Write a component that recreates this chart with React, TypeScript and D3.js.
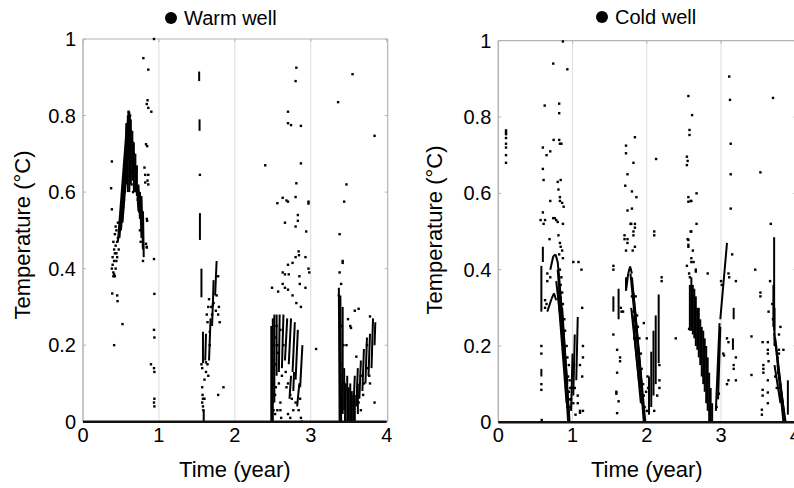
import React from "react";
import * as d3 from "d3";

// ---------- DATA (time in years, temperature in °C) ----------
const xTicks = [0, 1, 2, 3, 4];
const yTicks = [0, 0.2, 0.4, 0.6, 0.8, 1];
const yTickLabels = ["0", "0.2", "0.4", "0.6", "0.8", "1"];
const gridYears = [1, 2, 3];

// Warm well: isolated samples [t, T]
const warmDots: [number, number][] = [
  [0.37,0.61],[0.38,0.68],[0.38,0.555],[0.385,0.335],[0.41,0.2],[0.45,0.33],[0.455,0.315],[0.52,0.255],
  [0.39,0.41],[0.40,0.39],[0.41,0.42],[0.42,0.38],[0.43,0.40],[0.41,0.45],[0.43,0.46],[0.44,0.44],[0.45,0.47],
  [0.40,0.47],[0.42,0.49],[0.44,0.50],[0.46,0.48],[0.43,0.51],[0.39,0.43],[0.44,0.42],[0.47,0.45],[0.48,0.50],
  [0.40,0.38],[0.42,0.44],[0.46,0.52],[0.38,0.40],[0.41,0.385],[0.45,0.43],
  [0.55,0.6],[0.56,0.63],[0.58,0.66],[0.6,0.7],[0.57,0.72],[0.59,0.75],[0.61,0.78],[0.6,0.81],[0.62,0.8],
  [0.63,0.76],[0.65,0.73],[0.64,0.68],[0.66,0.66],[0.67,0.7],[0.69,0.66],[0.7,0.63],[0.68,0.61],[0.66,0.6],
  [0.71,0.6],[0.63,0.65],[0.72,0.58],[0.74,0.55],[0.73,0.6],[0.75,0.5],[0.76,0.47],[0.79,0.46],[0.79,0.42],
  [0.58,0.69],[0.6,0.74],[0.62,0.71],[0.64,0.74],[0.66,0.7],[0.68,0.67],[0.56,0.67],[0.58,0.73],[0.62,0.66],
  [0.64,0.62],[0.67,0.64],[0.7,0.66],[0.59,0.64],[0.61,0.69],[0.63,0.72],[0.65,0.69],[0.54,0.58],[0.53,0.56],
  [0.84,0.457],[0.935,0.425],[0.935,1.0],[0.795,0.95],[0.86,0.92],[0.85,0.84],[0.84,0.83],[0.86,0.82],[0.9,0.81],
  [0.83,0.725],[0.845,0.72],[0.81,0.664],[0.82,0.645],[0.86,0.645],[0.85,0.63],[0.82,0.625],[0.86,0.62],
  [0.84,0.53],[0.845,0.525],[0.83,0.465],[0.84,0.455],[0.94,0.334],[0.935,0.24],[0.94,0.22],[0.895,0.15],
  [0.935,0.14],[0.94,0.13],[0.94,0.06],[0.935,0.05],[0.94,0.04],
  [1.54,0.645],[1.57,0.09],[1.575,0.07],[1.58,0.06],[1.57,0.05],[1.58,0.04],[1.585,0.03],[1.56,0.15],[1.57,0.14],
  [1.66,0.32],[1.69,0.3],[1.7,0.28],[1.72,0.31],[1.75,0.29],[1.78,0.28],[1.8,0.26],[1.79,0.3],[1.78,0.38],
  [1.67,0.2],[1.64,0.15],[1.62,0.13],[1.6,0.11],[1.65,0.12],[1.85,0.09],[1.78,0.07],[1.6,0.06],[1.62,0.155],
  [1.64,0.26],[1.67,0.235],[1.76,0.33],[1.63,0.28],[1.65,0.3],
  [2.81,0.925],[2.8,0.89],[2.7,0.81],[2.7,0.78],[2.74,0.775],[2.87,0.773],[2.4,0.67],[2.87,0.675],[2.81,0.623],
  [2.56,0.571],[2.63,0.585],[2.68,0.578],[2.7,0.575],[2.8,0.587],[2.97,0.575],[2.97,0.57],[2.83,0.54],[2.83,0.525],
  [2.66,0.52],[2.8,0.51],[2.94,0.497],[2.84,0.445],[2.845,0.435],[2.8,0.43],[2.93,0.43],[2.76,0.415],[2.7,0.41],
  [2.63,0.39],[2.66,0.385],[2.71,0.385],[2.97,0.4],[2.98,0.39],[2.85,0.38],[2.855,0.36],[2.93,0.35],[2.63,0.36],
  [2.66,0.35],[2.7,0.345],[2.76,0.33],[2.49,0.35],[2.57,0.34],[2.87,0.3],[3.07,0.19],[2.81,0.31],
  [2.73,0.07],[2.75,0.06],[2.8,0.05],[2.86,0.06],[2.77,0.03],[2.7,0.02],[2.73,0.01],[2.84,0.03],[2.87,0.01],
  [2.88,0.0],[2.54,0.09],[2.53,0.07],[2.56,0.03],[2.53,0.02],[2.6,0.05],[2.6,0.03],[2.61,0.01],[2.58,0.1],
  [2.62,0.12],[2.68,0.09],[2.7,0.1],[2.64,0.2],[2.6,0.24],[2.67,0.13],[2.52,0.2],[2.53,0.22],[2.55,0.25],
  [2.57,0.18],[2.54,0.15],[2.56,0.2],[2.51,0.14],[2.5,0.1],[2.52,0.07],[2.49,0.05],[2.51,0.03],
  [3.38,0.49],[3.38,0.39],[3.42,0.42],[3.42,0.415],[3.44,0.575],[3.47,0.62],[3.36,0.835],[3.55,0.908],
  [3.84,0.747],[3.49,0.268],[3.58,0.29],[3.63,0.295],[3.52,0.25],[3.53,0.245],[3.78,0.275],[3.74,0.2],
  [3.75,0.14],[3.77,0.12],[3.78,0.1],[3.84,0.05],[3.47,0.2],[3.6,0.17],[3.4,0.36],[3.37,0.33],[3.41,0.25],
  [3.43,0.2],[3.39,0.15],[3.44,0.1],[3.66,0.12],[3.7,0.1],[3.69,0.07],[3.63,0.05],[3.66,0.03],
];

// Warm well: runs of consecutive samples [t0, T0, t1, T1]
const warmRuns: [number, number, number, number][] = [
  [0.46,0.47,0.58,0.78],[0.48,0.48,0.6,0.81],[0.5,0.5,0.62,0.8],[0.52,0.52,0.61,0.75],
  [0.57,0.62,0.57,0.78],[0.59,0.6,0.59,0.8],[0.61,0.6,0.61,0.81],[0.63,0.62,0.63,0.79],[0.65,0.63,0.65,0.76],
  [0.67,0.6,0.67,0.73],[0.69,0.6,0.69,0.7],[0.71,0.59,0.71,0.67],
  [0.73,0.62,0.75,0.53],[0.75,0.6,0.77,0.48],[0.77,0.59,0.79,0.45],[0.79,0.55,0.8,0.43],[0.71,0.62,0.73,0.55],
  [1.53,0.89,1.53,0.915],[1.535,0.76,1.535,0.79],[1.54,0.475,1.54,0.545],[1.56,0.325,1.56,0.40],
  [1.58,0.153,1.58,0.235],[1.59,0.0,1.59,0.03],
  [1.74,0.33,1.76,0.42],[1.71,0.3,1.72,0.37],[1.66,0.16,1.68,0.27],[1.61,0.16,1.62,0.23],[1.7,0.25,1.71,0.31],
  [2.48,0.0,2.48,0.25],[2.5,0.0,2.5,0.27],[2.52,0.05,2.52,0.28],
  [2.55,0.12,2.55,0.28],[2.58,0.13,2.59,0.28],[2.62,0.14,2.64,0.28],[2.66,0.16,2.69,0.27],[2.71,0.15,2.74,0.27],
  [2.76,0.13,2.79,0.26],[2.8,0.11,2.83,0.24],[2.86,0.09,2.89,0.2],[2.72,0.06,2.74,0.12],[2.82,0.04,2.85,0.1],
  [2.77,0.08,2.78,0.13],
  [3.38,0.0,3.37,0.35],[3.4,0.0,3.39,0.33],[3.42,0.02,3.42,0.3],
  [3.56,0.03,3.58,0.12],[3.6,0.04,3.62,0.14],[3.64,0.06,3.66,0.16],[3.68,0.08,3.7,0.19],[3.72,0.1,3.74,0.22],
  [3.76,0.12,3.78,0.23],[3.8,0.14,3.82,0.27],[3.84,0.2,3.85,0.26],
  [3.45,0.0,3.46,0.1],[3.48,0.0,3.48,0.12],[3.5,0.0,3.5,0.09],[3.52,0.0,3.52,0.1],[3.54,0.0,3.54,0.08],
  [3.56,0.0,3.56,0.07],[3.58,0.0,3.58,0.07],[3.62,0.02,3.62,0.1],[3.44,0.03,3.44,0.14],
];

// Cold well: isolated samples [t, T]
const coldDots: [number, number][] = [
  [0.104,0.765],[0.104,0.76],[0.104,0.755],[0.104,0.745],[0.104,0.73],[0.104,0.72],[0.104,0.70],[0.104,0.68],
  [0.58,0.2],[0.58,0.18],[0.58,0.1],[0.58,0.085],[0.585,0.006],[0.6,0.55],[0.61,0.52],[0.6,0.664],[0.61,0.635],
  [0.6,0.72],[0.65,0.70],[0.625,0.83],[0.74,0.94],[0.87,0.998],[0.93,0.925],[0.82,0.835],[0.82,0.81],[0.745,0.74],
  [0.82,0.74],[0.85,0.73],[0.83,0.73],[0.7,0.71],[0.8,0.63],[0.84,0.635],[0.81,0.61],[0.83,0.59],[0.83,0.58],
  [0.86,0.575],[0.88,0.565],[0.7,0.58],[0.57,0.53],[0.63,0.53],[0.74,0.535],[0.76,0.535],[0.78,0.53],[0.8,0.525],
  [0.87,0.52],[0.69,0.48],[0.81,0.49],[0.83,0.47],[0.84,0.46],[0.86,0.45],[0.82,0.44],[0.87,0.43],[0.66,0.39],
  [0.66,0.37],[0.63,0.30],[0.70,0.38],[1.01,0.42],[1.08,0.42],[1.12,0.40],[1.13,0.3],[1.14,0.2],[1.14,0.17],
  [1.13,0.12],[1.1,0.15],[1.07,0.07],[1.07,0.05],[1.1,0.03],[1.1,0.025],[1.14,0.03],[1.04,0.02],[0.65,0.31],
  [0.63,0.32],[0.84,0.36],[0.86,0.34],[0.87,0.31],[0.89,0.27],[0.9,0.24],[0.92,0.2],[0.93,0.17],[0.94,0.12],
  [0.95,0.08],[0.96,0.06],[0.97,0.04],[0.9,0.12],[0.91,0.09],[1.0,0.12],[1.02,0.15],[0.99,0.09],
  [0.83,0.4],[0.85,0.38],[0.81,0.33],[0.83,0.3],[0.85,0.26],[0.87,0.23],[0.88,0.18],[0.89,0.14],[0.91,0.11],
  [0.92,0.07],[0.93,0.04],[0.95,0.15],[0.96,0.11],[0.97,0.09],[0.98,0.06],[1.01,0.05],[1.03,0.09],
  [1.55,0.41],[1.55,0.4],[1.55,0.23],[1.6,0.19],[1.64,0.17],[1.64,0.16],[1.6,0.13],[1.59,0.08],[1.59,0.075],
  [1.62,0.055],[1.6,0.024],[1.84,0.747],[1.72,0.725],[1.72,0.705],[1.82,0.68],[1.74,0.65],[1.71,0.62],[1.8,0.605],
  [1.86,0.59],[1.74,0.555],[1.8,0.56],[1.78,0.52],[1.79,0.52],[1.84,0.52],[1.84,0.51],[1.7,0.49],[1.7,0.48],
  [1.74,0.48],[1.74,0.47],[1.82,0.5],[1.82,0.49],[1.84,0.46],[1.72,0.45],[1.81,0.45],[2.1,0.5],[2.1,0.49],
  [2.125,0.69],[2.2,0.38],[2.2,0.37],[2.39,0.22],[1.96,0.26],[2.0,0.22],[2.17,0.15],[2.17,0.11],[2.14,0.07],
  [2.1,0.03],[2.17,0.09],[1.65,0.3],[1.66,0.29],[1.68,0.29],[1.85,0.33],[1.87,0.28],[1.88,0.25],[1.9,0.22],
  [1.92,0.18],[1.93,0.14],[1.95,0.1],[1.96,0.07],[1.97,0.04],[2.0,0.03],[1.99,0.08],[2.01,0.12],[2.02,0.09],
  [1.83,0.22],[1.86,0.18],[1.8,0.33],[1.82,0.29],[1.84,0.25],[1.86,0.22],[1.87,0.16],[1.89,0.13],[1.91,0.08],
  [1.94,0.05],
  [2.56,0.855],[2.61,0.805],[2.575,0.766],[2.575,0.753],[2.54,0.696],[2.55,0.685],[2.54,0.674],[2.56,0.59],
  [2.56,0.578],[2.59,0.58],[2.6,0.58],[2.67,0.6],[2.67,0.52],[2.59,0.5],[2.6,0.5],[2.55,0.48],[2.56,0.46],
  [2.62,0.45],[2.6,0.43],[2.6,0.42],[2.54,0.41],[2.63,0.42],[2.66,0.4],[2.66,0.395],[2.56,0.478],[2.56,0.465],
  [2.57,0.39],[2.58,0.38],[2.57,0.245],[2.82,0.39],[3.11,0.906],[3.12,0.845],[3.13,0.73],[3.13,0.65],
  [3.13,0.56],[3.15,0.44],[3.1,0.39],[3.11,0.38],[3.0,0.37],[3.01,0.36],[3.2,0.37],[3.08,0.22],[3.1,0.21],
  [3.2,0.17],[3.03,0.18],[3.04,0.175],[3.17,0.15],[3.17,0.14],[3.2,0.11],[3.08,0.1],[3.1,0.11],[2.97,0.075],
  [2.94,0.04],
  [3.7,0.85],[3.53,0.655],[3.46,0.4],[3.53,0.34],[3.53,0.33],[3.41,0.225],[3.41,0.124],[3.56,0.21],[3.57,0.15],
  [3.57,0.14],[3.57,0.13],[3.56,0.085],[3.56,0.07],[3.55,0.033],[3.55,0.02],[3.63,0.078],[3.63,0.05],[3.63,0.11],
  [3.64,0.16],[3.63,0.19],[3.63,0.18],[3.63,0.21],[3.64,0.29],[3.66,0.37],[3.67,0.52],[3.8,0.25],[3.84,0.19],
  [3.78,0.19],[3.78,0.18],[3.78,0.23],[3.7,0.27],[3.69,0.31],[3.74,0.2],[3.76,0.17],[3.77,0.13],[3.79,0.1],
  [3.81,0.07],[3.83,0.04],[3.73,0.12],[3.75,0.09],
];

// Cold well: runs of consecutive samples [t0, T0, t1, T1]
const coldRuns: [number, number, number, number][] = [
  [0.58,0.29,0.58,0.41],[0.6,0.42,0.6,0.46],[0.58,0.12,0.58,0.14],
  [0.7,0.4,0.74,0.435],[0.74,0.435,0.77,0.44],[0.77,0.44,0.8,0.42],[0.8,0.42,0.82,0.38],
  [0.66,0.29,0.72,0.325],[0.72,0.325,0.75,0.338],[0.75,0.338,0.78,0.32],
  [0.8,0.4,0.9,0.15],[0.82,0.38,0.93,0.1],[0.84,0.33,0.95,0.02],[0.86,0.3,0.96,0.0],[0.8,0.35,0.92,0.05],
  [0.88,0.2,0.94,0.0],[0.78,0.37,0.88,0.2],
  [1.05,0.11,1.07,0.276],[1.01,0.07,1.03,0.23],[0.98,0.03,1.0,0.18],
  [1.55,0.29,1.55,0.33],[1.62,0.27,1.62,0.35],[1.72,0.345,1.72,0.38],
  [1.72,0.345,1.75,0.39],[1.75,0.39,1.775,0.408],[1.775,0.408,1.8,0.39],
  [1.78,0.39,1.9,0.15],[1.8,0.38,1.93,0.1],[1.82,0.34,1.96,0.02],[1.84,0.3,1.98,0.0],[1.79,0.3,1.9,0.1],
  [1.88,0.2,1.96,0.0],[1.81,0.28,1.92,0.05],
  [2.16,0.155,2.16,0.335],[2.12,0.1,2.12,0.28],[2.09,0.07,2.09,0.24],[2.06,0.04,2.06,0.185],[2.03,0.02,2.03,0.12],
  [3.17,0.27,3.17,0.3],[3.16,0.19,3.16,0.22],[2.99,0.27,3.08,0.47],[2.93,0.03,2.98,0.26],[2.96,0.06,2.99,0.25],
  [2.58,0.24,2.58,0.36],[2.6,0.24,2.6,0.38],[2.62,0.23,2.62,0.36],[2.64,0.22,2.64,0.35],[2.66,0.2,2.66,0.33],
  [2.68,0.19,2.68,0.3],[2.7,0.17,2.7,0.3],[2.72,0.15,2.72,0.27],[2.74,0.12,2.74,0.25],[2.76,0.1,2.76,0.24],
  [2.78,0.08,2.78,0.22],[2.8,0.05,2.8,0.2],[2.82,0.03,2.82,0.17],[2.84,0.0,2.84,0.13],[2.86,0.0,2.86,0.09],
  [2.88,0.0,2.88,0.05],
  [3.715,0.24,3.715,0.485],[3.705,0.25,3.705,0.36],[3.72,0.2,3.72,0.3],
  [3.715,0.235,3.86,0.0],[3.73,0.22,3.85,0.02],[3.75,0.18,3.84,0.0],[3.72,0.15,3.8,0.05],[3.76,0.15,3.87,0.0],
  [3.9,0.02,3.9,0.11],
];

// ---------- PANEL ----------
const FONT = "Arial, 'Liberation Sans', Helvetica, sans-serif";

type PanelProps = {
  x0: number; x1: number; yTop: number; yBot: number;
  title: string; titleX: number; titleY: number;
  yTitleX: number; yTitleY: number;
  dots: [number, number][]; runs: [number, number, number, number][];
};

function Panel(p: PanelProps) {
  const x = d3.scaleLinear().domain([0, 4]).range([p.x0, p.x1]);
  const y = d3.scaleLinear().domain([0, 1]).range([p.yBot, p.yTop]);
  const seg = d3.line<[number, number]>().x((d) => x(d[0])).y((d) => y(d[1]));
  const frame = "#b4b4b4";
  return (
    <g>
      <circle cx={p.titleX - 13} cy={p.titleY - 7} r={6} fill="#000" />
      <text x={p.titleX} y={p.titleY} fontSize={20} fontFamily={FONT} fill="#000">{p.title}</text>

      {gridYears.map((g) => (
        <line key={g} x1={x(g)} x2={x(g)} y1={y(1)} y2={y(0)} stroke="#dcdcdc" strokeWidth={1} />
      ))}
      <line x1={x(0)} x2={x(4)} y1={y(1)} y2={y(1)} stroke={frame} strokeWidth={1.2} />
      <line x1={x(0)} x2={x(0)} y1={y(1)} y2={y(0)} stroke={frame} strokeWidth={1.5} />
      <line x1={x(4) + 1} x2={x(4) + 1} y1={y(1)} y2={y(0)} stroke={frame} strokeWidth={1.2} />
      {yTicks.map((t, i) => (
        <g key={"yt" + i}>
          <line x1={x(0)} x2={x(0) + 3} y1={y(t)} y2={y(t)} stroke={frame} />
          <line x1={x(4) + 1} x2={x(4) - 2} y1={y(t)} y2={y(t)} stroke={frame} />
          <text x={x(0) - 7} y={y(t) + 7} fontSize={20} textAnchor="end" fontFamily={FONT} fill="#000">
            {yTickLabels[i]}
          </text>
        </g>
      ))}
      {xTicks.map((t) => (
        <g key={"xt" + t}>
          <line x1={x(t)} x2={x(t)} y1={y(1)} y2={y(1) + 3} stroke={frame} />
          <text x={x(t)} y={y(0) + 20} fontSize={20} textAnchor="middle" fontFamily={FONT} fill="#000">
            {t}
          </text>
        </g>
      ))}

      {p.runs.map((r, i) => (
        <path key={"r" + i} d={seg([[r[0], r[1]], [r[2], r[3]]]) || ""} stroke="#000" strokeWidth={2} fill="none" />
      ))}
      {p.dots.map((d, i) => (
        <rect key={"d" + i} x={x(d[0]) - 1.2} y={y(d[1]) - 1.2} width={2.4} height={2.4} fill="#000" />
      ))}

      <line x1={x(0)} x2={x(4)} y1={y(0)} y2={y(0)} stroke="#111" strokeWidth={2.5} />

      <text x={(x(0) + x(4)) / 2} y={477} fontSize={22} textAnchor="middle" fontFamily={FONT} fill="#000">
        Time (year)
      </text>
      <text transform={`translate(${p.yTitleX},${p.yTitleY}) rotate(-90)`} fontSize={22} textAnchor="middle"
        fontFamily={FONT} fill="#000">
        Temperature (°C)
      </text>
    </g>
  );
}

export default function App() {
  return (
    <svg width={794} height={488} style={{ position: "absolute", left: 0, top: 0, background: "#fff" }}>
      <rect width={794} height={488} fill="#fff" />
      <Panel x0={83} x1={386.7} yTop={39} yBot={421.7} title="Warm well" titleX={184} titleY={25}
        yTitleX={30} yTitleY={235} dots={warmDots} runs={warmRuns} />
      <Panel x0={498.3} x1={795.3} yTop={40.7} yBot={422.3} title="Cold well" titleX={615} titleY={24}
        yTitleX={442} yTitleY={230} dots={coldDots} runs={coldRuns} />
    </svg>
  );
}
